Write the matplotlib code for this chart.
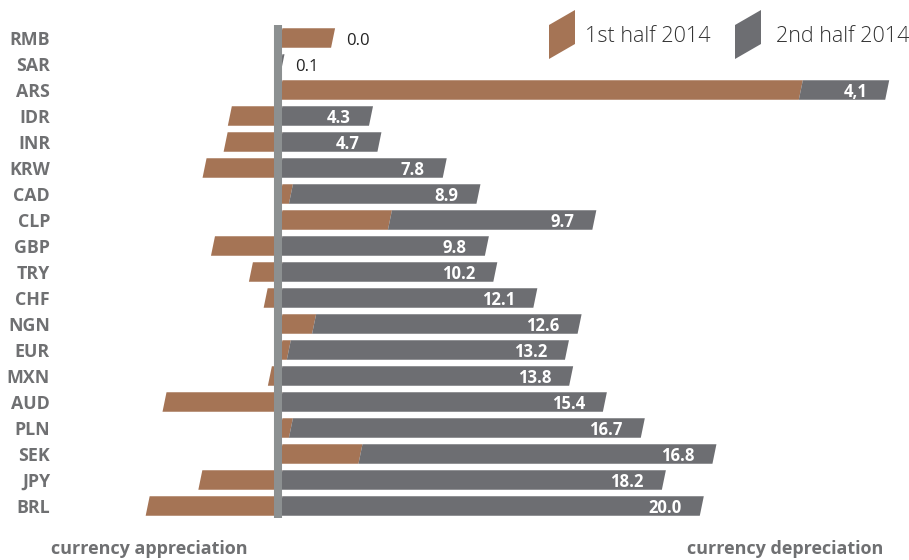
import matplotlib

matplotlib.use("Agg")
import matplotlib.pyplot as plt
from matplotlib.patches import Polygon

plt.rcParams["font.family"] = ["Open Sans", "DejaVu Sans"]

# currency change vs USD, % (positive = depreciation)
currencies = ["RMB", "SAR", "ARS", "IDR", "INR", "KRW", "CAD", "CLP", "GBP", "TRY",
              "CHF", "NGN", "EUR", "MXN", "AUD", "PLN", "SEK", "JPY", "BRL"]
first_half = [2.5, 0.0, 24.7, -2.4, -2.6, -3.6, 0.5, 5.2, -3.2, -1.4,
              -0.7, 1.6, 0.4, -0.5, -5.5, 0.5, 3.8, -3.8, -6.3]
second_half = [0.0, 0.1, 4.1, 4.3, 4.7, 7.8, 8.9, 9.7, 9.8, 10.2,
               12.1, 12.6, 13.2, 13.8, 15.4, 16.7, 16.8, 18.2, 20.0]
second_labels = ["0.0", "0.1", "4,1", "4.3", "4.7", "7.8", "8.9", "9.7", "9.8", "10.2",
                 "12.1", "12.6", "13.2", "13.8", "15.4", "16.7", "16.8", "18.2", "20.0"]

BROWN = "#a57455"
GREY = "#6d6e72"
AXIS = "#8c9091"
LABEL = "#6f7072"

W, H = 909, 560
PX = 21.07          # pixels per percentage point
ZERO_PX = 280.4
ROW_PX = 26.0
TOP_PX = 38.0
BAR_H = 0.75
SLANT = 0.19        # top edge shifted right, in data units
TXT_DY = 0.27       # baseline offset below row centre


def slanted(ax, a, b, y, color):
    h = BAR_H / 2
    s = SLANT / 2
    pts = [(a - s, y + h), (b - s, y + h), (b + s, y - h), (a + s, y - h)]
    ax.add_patch(Polygon(pts, closed=True, facecolor=color, edgecolor="none"))


fig = plt.figure(figsize=(W / 100, H / 100), dpi=100)
ax = fig.add_axes([0, 0, 1, 1])
ax.set_xlim(-ZERO_PX / PX, (W - ZERO_PX) / PX)
ax.set_ylim((H - TOP_PX) / ROW_PX, -TOP_PX / ROW_PX)
ax.axis("off")

for i, (name, v1, v2, lab) in enumerate(zip(currencies, first_half, second_half, second_labels)):
    if v1 < 0:
        slanted(ax, v1, 0, i, BROWN)
        start = 0.0
    else:
        if v1 > 0:
            slanted(ax, 0, v1, i, BROWN)
        start = v1
    end = start + v2
    if v2 > 0:
        slanted(ax, start, end, i, GREY)
    if v2 < 1:
        ax.text(end + 0.6, i + TXT_DY, lab, ha="left", va="baseline",
                fontsize=12, color="#222222")
    else:
        ax.text(end - 0.95, i + TXT_DY, lab, ha="right", va="baseline",
                fontsize=12, fontweight="bold", color="white")
    ax.text(50 / PX + ax.get_xlim()[0], i + TXT_DY, name, ha="right", va="baseline",
            fontsize=12.8, fontweight="bold", color=LABEL)

ax.plot([-0.1, -0.1], [-0.5, len(currencies) - 0.54], color=AXIS, lw=5.8,
        solid_capstyle="butt", zorder=5)


# legend swatches, placed in figure pixels
def fx(px):
    return px / W


def fy(py):
    return 1 - py / H


for x0, tx, color, text in [(549, 585, BROWN, "1st half 2014"),
                            (735, 776, GREY, "2nd half 2014")]:
    pts = [(fx(x0), fy(59)), (fx(x0), fy(25)), (fx(x0 + 26), fy(10)), (fx(x0 + 26), fy(44))]
    fig.patches.append(Polygon(pts, closed=True, facecolor=color, edgecolor="none",
                               transform=fig.transFigure))
    fig.text(fx(tx), fy(42.3), text, ha="left", va="baseline", fontsize=15.5,
             fontweight="light", color="#333333")

fig.text(fx(51), fy(554), "currency appreciation", ha="left", va="baseline",
         fontsize=13, fontweight="bold", color=LABEL)
fig.text(fx(883), fy(554), "currency depreciation", ha="right", va="baseline",
         fontsize=13, fontweight="bold", color=LABEL)

fig.savefig("out.png", dpi=100)
